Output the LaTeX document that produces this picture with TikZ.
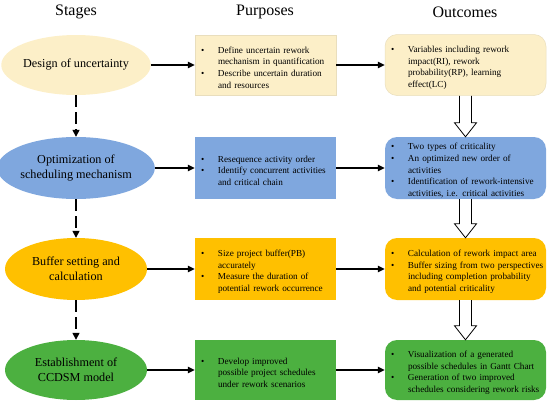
\documentclass[tikz,border=0pt]{standalone}
\usepackage{fontspec}
\setmainfont{Liberation Serif}
\usetikzlibrary{arrows.meta,calc,shapes.geometric}
\definecolor{cY}{HTML}{FCEFC8}
\definecolor{cB}{HTML}{7FA7DE}
\definecolor{cO}{HTML}{FFC000}
\definecolor{cG}{HTML}{4CB040}
\newlength\mybpos \newlength\mybgap \newlength\mytpos
\setlength\mybpos{6pt}\setlength\mybgap{17pt}\setlength\mytpos{23pt}
\newcommand\myitem[1]{\par\noindent\hspace*{\mybpos}\makebox[\mybgap][l]{\textbullet}#1}
\newcommand\mycont[1]{\par\noindent\hspace*{\mytpos}#1}
\tikzset{
  stage/.style={ellipse, minimum width=142pt, minimum height=60pt, inner sep=0pt, align=center, font=\fontsize{12.2}{15}\selectfont},
  pbox/.style={rectangle, text width=141pt, minimum height=61pt, inner xsep=0pt, inner ysep=0pt, align=left, font=\fontsize{9.2}{11.7}\selectfont},
  obox/.style={rectangle, rounded corners=12pt, text width=161pt, minimum height=61pt, inner xsep=0pt, inner ysep=0pt, align=left, font=\fontsize{9.2}{11.7}\selectfont},
  head/.style={font=\fontsize{16}{18}\selectfont},
  arr/.style={-{Triangle[length=7pt,width=6.5pt]}, line width=1.1pt},
  darr/.style={-{Triangle[length=7pt,width=7pt]}, line width=1.4pt, dash pattern=on 12pt off 5pt},
  hollow/.style={draw=black, fill=white, line width=0.8pt, line join=miter}
}
\begin{document}
\begin{tikzpicture}[x=1pt,y=-1pt]
\useasboundingbox (0,0) rectangle (550,407);
% headers
\node[head] (h1) at (76,12) {Stages};
\node[head] (h2) at (265,12) {Purposes};
\node[head] (h3) at (465,12) {Outcomes};
% row 1
\node[stage, fill=cY] (e1) at (76,65) {Design of uncertainty};
\node[pbox, fill=cY, draw=cY!85!gray, line width=0.5pt, minimum height=60pt] (p1) at (265.5,65) {%
\myitem{Define uncertain rework}\mycont{mechanism in quantification}\myitem{Describe uncertain duration}\mycont{and resources}};
\node[obox, fill=cY, draw=cY!85!gray, line width=0.5pt, minimum height=61pt] (o1) at (465.5,65) {%
\myitem{Variables including rework}\mycont{impact(RI), rework}\mycont{probability(RP), learning}\mycont{effect(LC)}};
% row 2
\node[stage, fill=cB, minimum height=62pt] (e2) at (76,168) {Optimization of\\scheduling mechanism};
\node[pbox, fill=cB, minimum height=62pt] (p2) at (265.5,168) {%
\myitem{Resequence activity order}\myitem{Identify concurrent activities}\mycont{and critical chain}};
\node[obox, fill=cB, minimum height=62pt] (o2) at (465.5,168) {%
\myitem{Two types of criticality}\myitem{An optimized new order of}\mycont{activities}\myitem{Identification of rework-intensive}\mycont{activities, i.e. critical activities}};
% row 3
\node[stage, fill=cO, minimum height=62pt] (e3) at (76,269) {Buffer setting and\\calculation};
\node[pbox, fill=cO, minimum height=62pt] (p3) at (265.5,269) {%
\myitem{Size project buffer(PB)}\mycont{accurately}\myitem{Measure the duration of}\mycont{potential rework occurrence}};
\node[obox, fill=cO, minimum height=62pt] (o3) at (465.5,269) {%
\myitem{Calculation of rework impact area}\myitem{Buffer sizing from two perspectives}\mycont{including completion probability}\mycont{and potential criticality}};
% row 4
\node[stage, fill=cG, minimum height=60pt] (e4) at (76,370) {Establishment of\\CCDSM model};
\node[pbox, fill=cG, minimum height=60pt] (p4) at (265.5,370) {%
\myitem{Develop improved}\mycont{possible project schedules}\mycont{under rework scenarios}};
\node[obox, fill=cG, minimum height=60pt] (o4) at (465.5,370) {%
\myitem{Visualization of a generated}\mycont{possible schedules in Gantt Chart}\myitem{Generation of two improved}\mycont{schedules considering rework risks}};
% horizontal arrows
\foreach \i in {1,2,3,4}{
  \draw[arr] (e\i.east) -- (p\i.west);
  \draw[arr] (p\i.east) -- (o\i.west);
}
% dashed arrows
\draw[darr] (e1.south) -- (e2.north);
\draw[darr] (e2.south) -- (e3.north);
\draw[darr] (e3.south) -- (e4.north);
% hollow arrows
\foreach \a/\b in {o1/o2,o2/o3,o3/o4}{
  \draw[hollow] ($(\a.south)+(-6,0)$) -- ($(\b.north)+(-6,-14)$) -- ($(\b.north)+(-11,-14)$) -- (\b.north) -- ($(\b.north)+(11,-14)$) -- ($(\b.north)+(6,-14)$) -- ($(\a.south)+(6,0)$);
}
\end{tikzpicture}
\end{document}
